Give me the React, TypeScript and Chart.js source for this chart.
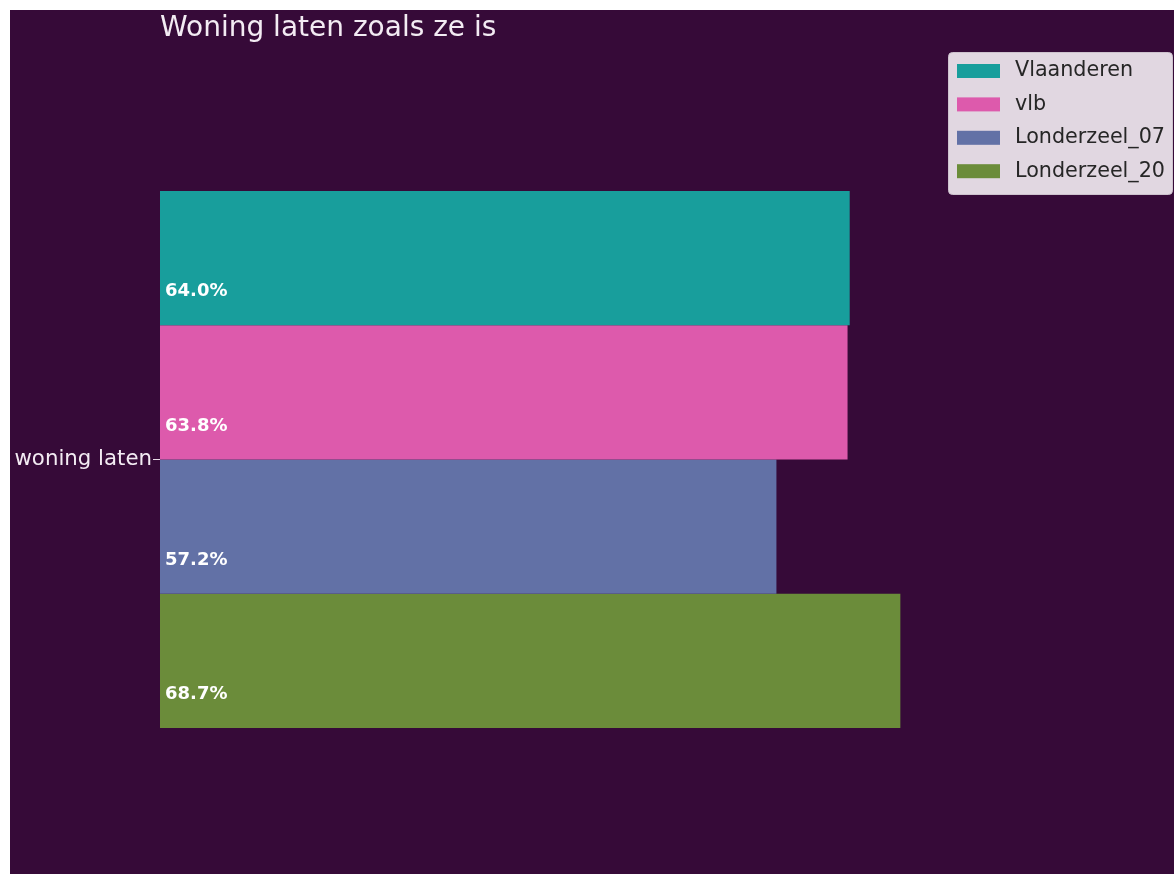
import React, { useEffect, useRef } from "react";
import { Chart, registerables } from "chart.js";

Chart.register(...registerables);

const categories = ["woning laten"];
const seriesNames = ["Vlaanderen", "vlb", "Londerzeel_07", "Londerzeel_20"];
const vlaanderen = [64.0];
const vlb = [63.8];
const londerzeel07 = [57.2];
const londerzeel20 = [68.7];
const seriesColors = ["#189E9C", "#DD5AAC", "#6271A6", "#6B8C3A"];
const titleText = "Woning laten zoals ze is";

const FONT = "'DejaVu Sans', sans-serif";

const overlayPlugin = {
  id: "overlay",
  afterDatasetsDraw(chart: any) {
    const ctx = chart.ctx;
    const xScale = chart.scales.x;
    const area = chart.chartArea;
    ctx.save();
    // value labels
    ctx.font = `bold 18px ${FONT}`;
    ctx.fillStyle = "#FFFFFF";
    ctx.textAlign = "left";
    ctx.textBaseline = "middle";
    chart.data.datasets.forEach((ds: any, i: number) => {
      const meta = chart.getDatasetMeta(i);
      meta.data.forEach((el: any, j: number) => {
        const v = ds.data[j];
        const x = xScale.getPixelForValue(0) + 5;
        const y = el.y + el.height * 0.25;
        ctx.fillText(v.toFixed(1) + "%", x, y);
      });
    });
    // title
    ctx.font = `28px ${FONT}`;
    ctx.fillStyle = "#F3EBF3";
    ctx.fillText(titleText, area.left, 19);
    // legend
    const bx = 938, by = 42, bw = 224, bh = 142;
    ctx.fillStyle = "#E1D7E1";
    ctx.strokeStyle = "#CDC2CD";
    ctx.lineWidth = 1;
    ctx.beginPath();
    (ctx as any).roundRect(bx + 0.5, by + 0.5, bw, bh, 4);
    ctx.fill();
    ctx.stroke();
    ctx.font = `20.7px ${FONT}`;
    chart.data.datasets.forEach((ds: any, i: number) => {
      const cy = 61 + i * 33.4;
      ctx.fillStyle = ds.backgroundColor;
      ctx.fillRect(947, cy - 7, 43, 14);
      ctx.fillStyle = "#262626";
      ctx.fillText(ds.label, 1005, cy);
    });
    ctx.restore();
  },
};

export default function App() {
  const canvasRef = useRef<HTMLCanvasElement | null>(null);

  useEffect(() => {
    if (!canvasRef.current) return;
    const seriesValues = [vlaanderen, vlb, londerzeel07, londerzeel20];
    const chart = new Chart(canvasRef.current, {
      type: "bar",
      data: {
        labels: categories,
        datasets: seriesNames.map((name, i) => ({
          label: name,
          data: seriesValues[i],
          backgroundColor: seriesColors[i],
          borderWidth: 0,
          categoryPercentage: 0.8,
          barPercentage: 1.0,
        })),
      },
      options: {
        indexAxis: "y",
        animation: false,
        responsive: false,
        maintainAspectRatio: false,
        layout: { padding: { top: 114, bottom: 79, right: 237, left: 0 } },
        plugins: {
          legend: { display: false },
          title: { display: false },
          tooltip: { enabled: false },
        },
        scales: {
          x: {
            display: false,
            min: 0,
            max: 72.1,
          },
          y: {
            afterFit(scale: any) {
              scale.width = 150;
            },
            border: { display: false },
            grid: {
              display: true,
              offset: false,
              drawOnChartArea: false,
              drawTicks: true,
              tickLength: 7,
              color: "#E8DDE8",
              lineWidth: 1,
            },
            ticks: {
              color: "#F3EBF3",
              font: { family: FONT, size: 21.3 },
              padding: 1,
            },
          },
        },
      },
      plugins: [overlayPlugin],
    });
    return () => chart.destroy();
  }, []);

  return (
    <div
      style={{
        position: "absolute",
        left: 10,
        top: 10,
        width: 1164,
        height: 864,
        background: "#360A38",
      }}
    >
      <canvas ref={canvasRef} width={1164} height={864} style={{ display: "block" }} />
    </div>
  );
}
